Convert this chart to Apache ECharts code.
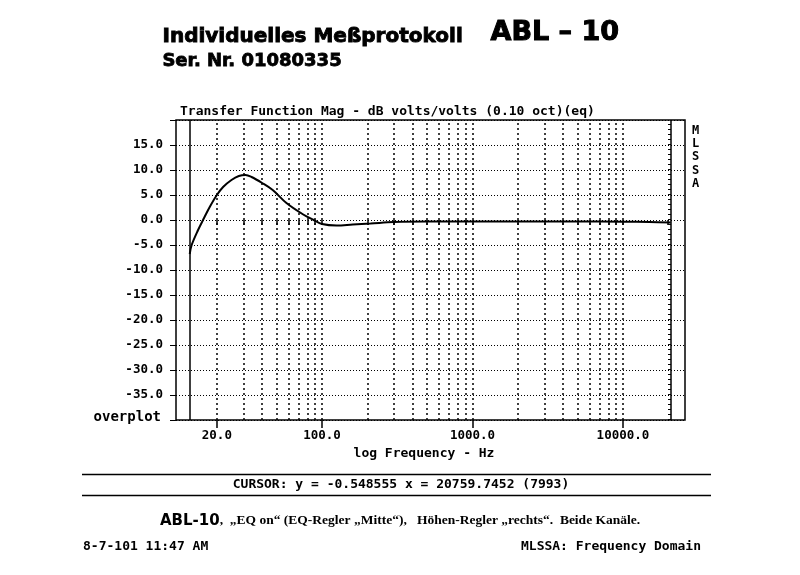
<!DOCTYPE html>
<html>
<head>
<meta charset="utf-8">
<script src="https://cdn.jsdelivr.net/npm/echarts@6/dist/echarts.min.js"></script>
<style>html,body{margin:0;padding:0;background:#fff}#c{width:800px;height:575px}</style>
</head>
<body>
<div id="c"></div>
<script>
// ---- data ----
var freqHz = [13.2, 13.6, 15.0, 16.5, 18.0, 20.0, 22.0, 25.0, 28.0, 31.0, 34.0, 40.0, 47.0, 58.0, 75.0, 88.0, 100, 125, 160, 210, 300, 500, 1000, 2000, 5000, 10000, 15000, 20759.7452];
var gainDb = [-6.8, -5.0, -2.0, 0.5, 2.7, 5.0, 6.6, 8.0, 8.8, 9.0, 8.6, 7.4, 6.0, 3.4, 1.1, 0.0, -0.8, -1.1, -0.9, -0.7, -0.4, -0.3, -0.3, -0.3, -0.3, -0.35, -0.4, -0.5];
var gridFreqHz = [20, 30, 40, 50, 60, 70, 80, 90, 100, 200, 300, 400, 500, 600, 700, 800, 900, 1000, 2000, 3000, 4000, 5000, 6000, 7000, 8000, 9000, 10000];
var minorTickHz = [20, 30, 40, 50, 60, 70, 80, 90, 100, 200, 300, 400, 500, 600, 700, 800, 900, 1000, 2000, 3000, 4000, 5000, 6000, 7000, 8000, 9000, 10000, 20000];
var majorTickHz = [20, 100, 1000, 10000];
var xLabelHz = [20, 100, 1000, 10000];
var markerHz = [13.2, 20759.7452];
var yTicks = [-35, -30, -25, -20, -15, -10, -5, 0, 5, 10, 15];

var mono = "'DejaVu Sans Mono', 'Liberation Mono', monospace";
var sansB = "'DejaVu Sans', sans-serif";
var serif = "'Liberation Serif', 'DejaVu Serif', serif";

var X_MIN = 10.7, X_MAX = 25850;
var chart = echarts.init(document.getElementById('c'), null, {renderer: 'canvas'});

var curve = freqHz.map(function (f, i) { return [f, gainDb[i]]; });

var option = {
  backgroundColor: '#fff',
  animation: false,
  grid: {left: 176, right: 115, top: 120, bottom: 155, show: true, borderColor: '#000', borderWidth: 1.5, backgroundColor: 'transparent'},
  xAxis: [{
    type: 'log', logBase: 10, min: X_MIN, max: X_MAX,
    axisLine: {show: false},
    splitLine: {show: false},
    axisTick: {show: true, length: 5, customValues: minorTickHz, lineStyle: {color: '#000', width: 1.5}},
    axisLabel: {show: true, customValues: xLabelHz, margin: 9,
      formatter: function (v) { return Number(v).toFixed(1); },
      fontFamily: mono, fontWeight: 'bold', fontSize: 12.5, color: '#000'}
  }, {
    type: 'log', logBase: 10, min: X_MIN, max: X_MAX, position: 'bottom',
    axisLine: {show: false},
    splitLine: {show: false},
    axisTick: {show: true, length: 8, customValues: majorTickHz, lineStyle: {color: '#000', width: 1.5}},
    axisLabel: {show: false}
  }],
  yAxis: {
    type: 'value', min: -40, max: 20, interval: 5,
    axisLine: {show: false},
    axisTick: {show: true, length: 6, lineStyle: {color: '#000', width: 1}},
    splitLine: {show: true, lineStyle: {color: '#000', type: [1, 2], width: 1}},
    axisLabel: {margin: 13, customValues: yTicks,
      formatter: function (v) { return Number(v).toFixed(1); },
      fontFamily: mono, fontWeight: 'bold', fontSize: 12.5, color: '#000'}
  },
  series: [{
    type: 'line', xAxisIndex: 0, data: curve, showSymbol: false, smooth: 0.35,
    lineStyle: {color: '#000', width: 2}, z: 5,
    markLine: {
      silent: true, symbol: ['none', 'none'], label: {show: false},
      lineStyle: {color: '#000', type: [2, 3], width: 1.5},
      data: gridFreqHz.map(function (f) { return {xAxis: f}; })
    }
  }, {
    type: 'line', xAxisIndex: 0, data: [],
    markLine: {
      silent: true, symbol: ['none', 'none'], label: {show: false},
      lineStyle: {color: '#000', type: 'solid', width: 1.5},
      data: markerHz.map(function (f) { return {xAxis: f}; })
    }
  }, {
    type: 'line', xAxisIndex: 0, data: [],
    markLine: {
      silent: true, symbol: ['none', 'none'], label: {show: false},
      lineStyle: {color: '#000', type: [1, 4], width: 3},
      data: [{xAxis: markerHz[1] * 0.975}]
    }
  }],
  graphic: [
    {type: 'text', left: 162, top: 26, style: {text: 'Individuelles Meßprotokoll', font: 'bold 20px ' + sansB, fill: '#000', stroke: '#000', lineWidth: 0.9}},
    {type: 'text', left: 490, top: 19, style: {text: 'ABL – 10', font: 'bold 27px ' + sansB, fill: '#000', stroke: '#000', lineWidth: 1}},
    {type: 'text', left: 162, top: 52, style: {text: 'Ser. Nr. 01080335', font: 'bold 18px ' + sansB, fill: '#000', stroke: '#000', lineWidth: 0.8}},
    {type: 'text', left: 180, top: 105, style: {text: 'Transfer Function Mag - dB volts/volts (0.10 oct)(eq)', font: 'bold 13px ' + mono, fill: '#000'}},
    {type: 'text', left: 692, top: 124, style: {text: 'M\nL\nS\nS\nA', font: 'bold 12px ' + mono, lineHeight: 13.3, fill: '#000'}},
    {type: 'text', x: 161, y: 417, style: {text: 'overplot', font: 'bold 14px ' + mono, fill: '#000', align: 'right', verticalAlign: 'middle'}},
    {type: 'text', x: 424, y: 454, style: {text: 'log Frequency - Hz', font: 'bold 13px ' + mono, fill: '#000', align: 'center', verticalAlign: 'middle'}},
    {type: 'line', shape: {x1: 82, y1: 474.5, x2: 711, y2: 474.5}, style: {stroke: '#000', lineWidth: 1.5}},
    {type: 'line', shape: {x1: 82, y1: 495.5, x2: 711, y2: 495.5}, style: {stroke: '#000', lineWidth: 1.5}},
    {type: 'text', x: 401, y: 485, style: {text: 'CURSOR: y = -0.548555 x = 20759.7452 (7993)', font: 'bold 13px ' + mono, fill: '#000', align: 'center', verticalAlign: 'middle'}},
    {type: 'text', x: 160, y: 521, style: {
      text: '{a|ABL-10}{b|,  „EQ on“ (EQ-Regler „Mitte“),   Höhen-Regler „rechts“.  Beide Kanäle.}',
      verticalAlign: 'middle',
      rich: {
        a: {font: 'bold 15px ' + sansB, fill: '#000'},
        b: {font: 'bold 13.5px ' + serif, fill: '#000'}
      }}},
    {type: 'text', x: 83, y: 547, style: {text: '8-7-101 11:47 AM', font: 'bold 13px ' + mono, fill: '#000', verticalAlign: 'middle'}},
    {type: 'text', x: 701, y: 547, style: {text: 'MLSSA: Frequency Domain', font: 'bold 13px ' + mono, fill: '#000', align: 'right', verticalAlign: 'middle'}}
  ]
};
chart.setOption(option);
</script>
</body>
</html>
